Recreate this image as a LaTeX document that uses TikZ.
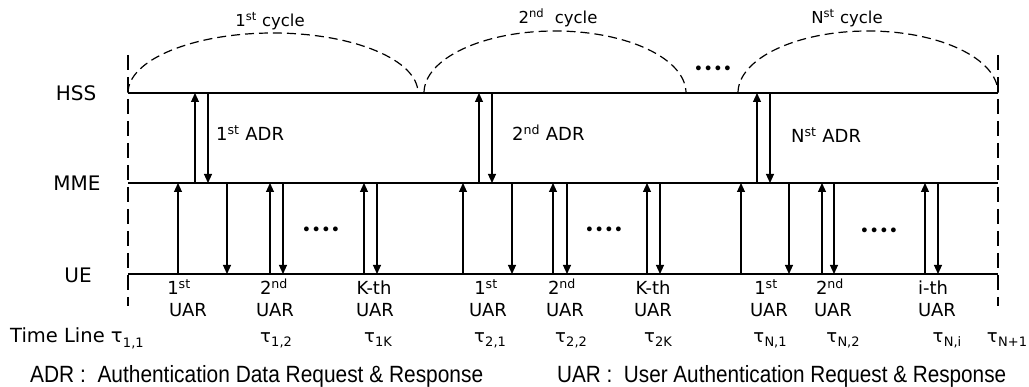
\documentclass[tikz,border=0pt]{standalone}
\usepackage{fontspec}
\usepackage{graphicx}
\setmainfont{DejaVu Sans}
\newfontfamily\legendfont{Liberation Sans}
\usetikzlibrary{arrows.meta}

% ordinal with raised suffix, and tau with a lowered index
\newcommand{\ordn}[2]{#1\textsuperscript{#2}}
\newcommand{\tsub}[1]{τ\kern0.3pt\raisebox{-0.4ex}{\fontsize{13}{14}\selectfont #1}}

\begin{document}
\begin{tikzpicture}[x=1pt,y=-1pt,
  lane/.style={line width=2.3pt},
  bound/.style={line width=1.2pt,dash pattern=on 15pt off 7pt},
  cyc/.style={line width=1.2pt,dash pattern=on 9pt off 5pt},
  msg/.style={line width=1.1pt,-{Triangle[length=9pt,width=8pt]}},
  lanename/.style={font=\fontsize{20}{22}\selectfont,inner sep=0pt},
  txt/.style={font=\fontsize{18}{20}\selectfont,inner sep=0pt},
  small/.style={font=\fontsize{16.5}{18}\selectfont,inner sep=0pt},
  dotrow/.style={font=\fontsize{16.5}{17}\selectfont,inner sep=0pt},
  legend/.style={font=\legendfont\fontsize{23.5}{25}\selectfont,inner sep=0pt}
]
\useasboundingbox (0,0) rectangle (1029,387);

% lanes
\foreach \n/\y in {hss/93,mme/183,ue/274}{
  \coordinate (\n W) at (128,\y);
  \coordinate (\n E) at (998,\y);
}
\draw[lane] (hssW) -- (hssE);
\draw[lane] (mmeW) -- (mmeE);
\draw[lane] (ueW) -- (ueE);

\node[lanename] (hssL) at (76,93) {HSS};
\node[lanename] (mmeL) at (77,183) {MME};
\node[lanename] (ueL) at (78,275) {UE};

% dashed boundaries of the time line
\coordinate (b1t) at (128,55);  \coordinate (b1b) at (128,306);
\coordinate (b2t) at (998,55);  \coordinate (b2b) at (998,306);
\draw[bound] (b1t) -- (b1b);
\draw[bound] (b2t) -- (b2b);

% cycles
\coordinate (c2s) at (424,93);
\coordinate (c3s) at (738,93);
\draw[cyc] (hssW) arc[start angle=180,end angle=0,x radius=145pt,y radius=60pt];
\draw[cyc] (c2s) arc[start angle=180,end angle=0,x radius=131pt,y radius=62pt];
\draw[cyc] (c3s) arc[start angle=180,end angle=0,x radius=130pt,y radius=62pt];

\node[small] (cy1) at (270,21) {\ordn{1}{st} cycle};
\node[small] (cy2) at (558,18) {\ordn{2}{nd}\ \ cycle};
\node[small] (cy3) at (847,18) {\ordn{N}{st} cycle};
\node[dotrow] (dtop) at (713,70) {••••};

% authentication data request / response
\foreach \u/\d in {195/208,479/492,757/770}{
  \draw[msg] (\u,0 |- mmeW) -- (\u,0 |- hssW);
  \draw[msg] (\d,0 |- hssW) -- (\d,0 |- mmeW);
}
\node[txt,anchor=west] (adr1) at (216,133) {\ordn{1}{st} ADR};
\node[txt,anchor=west] (adr2) at (512,133) {\ordn{2}{nd} ADR};
\node[txt,anchor=west] (adr3) at (791,135) {\ordn{N}{st} ADR};

% user authentication request / response
\foreach \u/\d in {178/227,270/283,364/377,463/512,553/567,647/660,741/789,822/834,925/938}{
  \draw[msg] (\u,0 |- ueW) -- (\u,0 |- mmeW);
  \draw[msg] (\d,0 |- mmeW) -- (\d,0 |- ueW);
}
\node[dotrow] (d1) at (321,231) {••••};
\node[dotrow] (d2) at (604,231) {••••};
\node[dotrow] (d3) at (879,232) {••••};

% labels under the UE lane
\foreach \i/\ord/\ox/\ux in {1/{\ordn{1}{st}}/179/188, 2/{\ordn{2}{nd}}/274/275, 3/{K-th}/374/375,
  4/{\ordn{1}{st}}/486/488, 5/{\ordn{2}{nd}}/562/565, 6/{K-th}/653/653,
  7/{\ordn{1}{st}}/766/769, 8/{\ordn{2}{nd}}/830/833, 9/{i-th}/933/937}{
  \node[txt,anchor=base] (o\i) at (\ox,295) {\ord};
  \node[txt,anchor=base] (u\i) at (\ux,317) {UAR};
}
\foreach \i/\s/\tx in {2/{1,2}/276, 3/{1K}/378, 4/{2,1}/490, 5/{2,2}/571, 6/{2K}/658,
  7/{N,1}/770, 8/{N,2}/843, 9/{N,i}/947, 10/{N+1}/1007}{
  \node[txt,anchor=base] (t\i) at (\tx,343) {\tsub{\s}};
}
\node[txt,anchor=base west,font=\fontsize{19.5}{21}\selectfont] (tl) at (10,343) {Time Line \tsub{1,1}};

% legend
\node[legend,anchor=base west] (lg1) at (30,383)
  {\resizebox{453pt}{\height}{ADR\ :\ \ Authentication Data Request \& Response}};
\node[legend,anchor=base west] (lg2) at (557,383)
  {\resizebox{449pt}{\height}{UAR\ :\ \ User Authentication Request \& Response}};
\end{tikzpicture}
\end{document}
